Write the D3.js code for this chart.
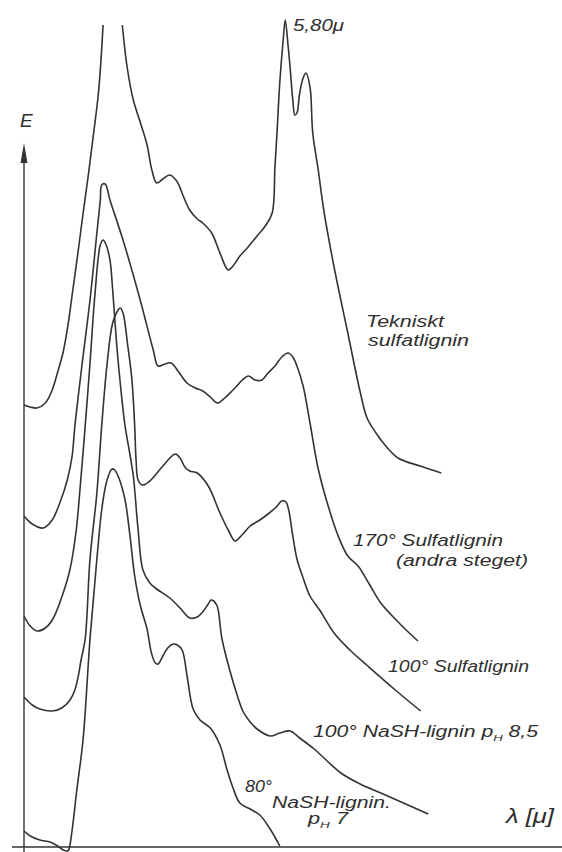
<!DOCTYPE html>
<html>
<head>
<meta charset="utf-8">
<script src="https://cdn.jsdelivr.net/npm/d3@7/dist/d3.min.js"></script>
<style>
  body { margin: 0; background: #fff; }
  svg { display: block; }
  text { font-family: 'Liberation Sans', 'DejaVu Sans', sans-serif; font-style: italic; fill: #2e2e2e; }
</style>
</head>
<body>
<div class="main"><svg></svg></div>
<script>
// IR-spektra, wavelength lambda [my] vs extinction E (arbitrary units)
// each series: [lambda, E]; null = pen lifted (peak off scale)
const tekniskt = [
  [2.00, 4.42], [2.09, 4.40], [2.19, 4.39], [2.31, 4.44], [2.41, 4.57], [2.49, 4.75],
  [2.57, 4.95], [2.64, 5.22], [2.71, 5.57], [2.79, 5.97], [2.86, 6.34], [2.93, 6.69],
  [3.00, 7.07], [3.08, 7.52], [3.12, 7.87], [3.15, 8.22],
  null,
  [3.43, 8.22], [3.50, 7.80], [3.59, 7.47], [3.69, 7.25], [3.79, 7.02], [3.86, 6.77],
  [3.93, 6.64], [4.02, 6.68], [4.12, 6.72], [4.23, 6.65], [4.31, 6.52], [4.41, 6.37],
  [4.52, 6.28], [4.60, 6.24], [4.73, 6.14], [4.85, 5.94], [4.97, 5.77], [5.04, 5.81],
  [5.14, 5.91], [5.26, 6.00], [5.39, 6.11], [5.51, 6.21], [5.61, 6.34], [5.65, 6.80],
  [5.68, 7.14], [5.72, 7.64], [5.77, 8.07], [5.80, 8.27], [5.84, 8.02], [5.87, 7.80],
  [5.91, 7.47], [5.94, 7.32], [5.97, 7.34], [6.01, 7.54], [6.06, 7.69], [6.10, 7.74],
  [6.16, 7.60], [6.20, 7.14], [6.28, 6.77], [6.36, 6.37], [6.51, 5.80], [6.71, 5.14],
  [6.89, 4.55], [6.99, 4.29], [7.12, 4.14], [7.25, 4.02], [7.44, 3.89], [7.76, 3.81],
  [8.07, 3.74]
];
const sulfat170 = [
  [2.00, 3.31], [2.12, 3.23], [2.28, 3.19], [2.41, 3.27], [2.52, 3.44], [2.63, 3.67],
  [2.70, 3.91], [2.74, 4.21], [2.84, 4.80], [2.96, 5.47], [3.06, 6.14], [3.11, 6.47],
  [3.13, 6.62], [3.18, 6.63], [3.25, 6.47], [3.44, 6.07], [3.69, 5.47], [3.88, 4.97],
  [3.95, 4.81], [4.05, 4.83], [4.14, 4.84], [4.25, 4.75], [4.37, 4.64], [4.49, 4.59],
  [4.60, 4.56], [4.71, 4.50], [4.81, 4.44], [4.92, 4.49], [5.04, 4.57], [5.26, 4.71],
  [5.36, 4.67], [5.46, 4.67], [5.55, 4.74], [5.65, 4.81], [5.75, 4.90], [5.84, 4.94],
  [5.91, 4.90], [5.97, 4.81], [6.06, 4.61], [6.16, 4.24], [6.28, 3.78], [6.42, 3.42],
  [6.57, 3.11], [6.71, 2.91], [6.86, 2.81], [7.03, 2.62], [7.19, 2.44], [7.47, 2.23],
  [7.73, 2.06]
];
const nash100 = [
  [2.00, 2.31], [2.09, 2.21], [2.19, 2.16], [2.31, 2.19], [2.42, 2.28], [2.55, 2.50],
  [2.67, 2.78], [2.76, 3.17], [2.81, 3.54], [2.89, 4.21], [2.96, 4.84], [3.03, 5.51],
  [3.11, 6.02], [3.15, 6.07], [3.19, 6.03], [3.25, 5.87], [3.29, 5.57], [3.35, 5.01],
  [3.41, 4.57], [3.47, 4.21], [3.53, 3.97], [3.59, 3.71], [3.66, 3.17], [3.73, 2.77],
  [3.83, 2.64], [3.93, 2.58], [4.12, 2.49], [4.27, 2.39], [4.41, 2.29], [4.52, 2.30],
  [4.60, 2.35], [4.68, 2.43], [4.72, 2.47], [4.76, 2.46], [4.81, 2.41], [4.88, 2.08],
  [5.00, 1.75], [5.10, 1.52], [5.19, 1.35], [5.29, 1.25], [5.39, 1.18], [5.58, 1.11],
  [5.72, 1.14], [5.87, 1.16], [6.01, 1.09], [6.22, 0.98], [6.61, 0.74], [6.89, 0.63],
  [7.19, 0.54], [7.88, 0.33]
];
const sulfat100 = [
  [2.00, 1.50], [2.12, 1.42], [2.23, 1.38], [2.41, 1.36], [2.55, 1.39], [2.67, 1.47],
  [2.74, 1.57], [2.79, 1.71], [2.83, 1.87], [2.89, 2.08], [2.96, 2.88], [3.06, 3.54],
  [3.13, 4.21], [3.21, 4.84], [3.29, 5.24], [3.37, 5.37], [3.40, 5.39], [3.44, 5.34],
  [3.51, 5.01], [3.57, 4.67], [3.61, 4.21], [3.63, 3.87], [3.66, 3.67], [3.72, 3.62],
  [3.83, 3.66], [4.02, 3.81], [4.20, 3.93], [4.27, 3.89], [4.34, 3.80], [4.41, 3.76],
  [4.52, 3.74], [4.68, 3.61], [4.85, 3.34], [4.97, 3.17], [5.07, 3.06], [5.17, 3.12],
  [5.29, 3.21], [5.43, 3.27], [5.55, 3.33], [5.67, 3.40], [5.75, 3.46], [5.81, 3.45],
  [5.85, 3.37], [5.91, 3.11], [5.97, 2.88], [6.06, 2.69], [6.16, 2.51], [6.31, 2.36],
  [6.51, 2.14], [6.74, 1.97], [7.00, 1.81], [7.40, 1.57], [7.77, 1.36]
];
const nash80 = [
  [2.00, 0.16], [2.09, 0.11], [2.23, 0.07], [2.38, 0.05], [2.49, 0.01], [2.57, -0.03],
  [2.63, -0.04], [2.65, -0.03], [2.70, 0.17], [2.77, 0.58], [2.86, 1.08], [2.96, 2.08],
  [3.06, 2.88], [3.13, 3.37], [3.19, 3.62], [3.25, 3.75], [3.28, 3.78], [3.32, 3.77],
  [3.38, 3.69], [3.47, 3.47], [3.54, 3.12], [3.61, 2.71], [3.69, 2.42], [3.79, 2.18],
  [3.85, 1.95], [3.91, 1.84], [3.95, 1.83], [4.02, 1.91], [4.09, 1.99], [4.17, 2.03],
  [4.23, 2.02], [4.30, 1.97], [4.37, 1.72], [4.46, 1.38], [4.56, 1.27], [4.71, 1.19],
  [4.85, 1.02], [4.95, 0.78], [5.04, 0.59], [5.14, 0.44], [5.29, 0.38], [5.43, 0.32],
  [5.58, 0.18], [5.72, 0.01]
];
const series = [tekniskt, sulfat170, nash100, sulfat100, nash80];

const svgWidth = 562, svgHeight = 852;

const svg = d3.select('.main')
  .select('svg')
  .attr('width', svgWidth)
  .attr('height', svgHeight)
  .style('background-color', '#fff');

const x = d3.scaleLinear().domain([2, 10]).range([24, 574]);
const y = d3.scaleLinear().domain([0, 8.22]).range([847, 25]);

const ink = '#333';

// axes (no ticks in the original, only the arrowed E axis and the lambda baseline)
svg.append('line')
  .attr('x1', 12).attr('x2', svgWidth)
  .attr('y1', y(0)).attr('y2', y(0))
  .attr('stroke', ink).attr('stroke-width', 1.4);

svg.append('line')
  .attr('x1', x(2)).attr('x2', x(2))
  .attr('y1', svgHeight).attr('y2', 158)
  .attr('stroke', ink).attr('stroke-width', 1.4);

svg.append('path')
  .attr('d', `M${x(2)},143 L${x(2) - 3.5},163 L${x(2) + 3.5},163 Z`)
  .attr('fill', ink);

const line = d3.line()
  .defined(d => d !== null)
  .x(d => x(d[0]))
  .y(d => y(d[1]))
  .curve(d3.curveCatmullRom.alpha(0.5));

svg.selectAll('path.spec')
  .data(series)
  .enter()
  .append('path')
  .attr('class', 'spec')
  .attr('d', line)
  .attr('fill', 'none')
  .attr('stroke', ink)
  .attr('stroke-width', 1.6)
  .attr('stroke-linejoin', 'round');

// labels
function label(txt, px, py, size, len) {
  const t = svg.append('text')
    .attr('x', px).attr('y', py)
    .style('font-size', size + 'px')
    .text(txt);
  if (len) t.attr('textLength', len).attr('lengthAdjust', 'spacingAndGlyphs');
  return t;
}

function phLabel(pre, post, px, py, size, len) {
  const t = svg.append('text')
    .attr('x', px).attr('y', py)
    .style('font-size', size + 'px');
  t.append('tspan').text(pre + 'p');
  t.append('tspan').attr('dy', 4).style('font-size', (size * 0.62) + 'px').text('H');
  t.append('tspan').attr('dy', -4).text(post);
  if (len) t.attr('textLength', len).attr('lengthAdjust', 'spacingAndGlyphs');
  return t;
}

label('E', 20, 127, 19);
label('5,80\u03bc', 293, 31, 16, 51);
label('Tekniskt', 366, 327, 16, 78);
label('sulfatlignin', 368, 346, 16, 101);
label('170\u00b0 Sulfatlignin', 353, 546, 16, 150);
label('(andra steget)', 396, 566, 16, 132);
label('100\u00b0 Sulfatlignin', 388, 672, 16, 141);
phLabel('100\u00b0 NaSH-lignin  ', ' 8,5', 313, 737, 16, 225);
label('80\u00b0', 245, 792, 17, 27);
label('NaSH-lignin.', 272, 808, 16, 119);
phLabel('', ' 7', 308, 824, 16, 40);
label('\u03bb [\u03bc]', 506, 823, 20, 48);
</script>
</body>
</html>
